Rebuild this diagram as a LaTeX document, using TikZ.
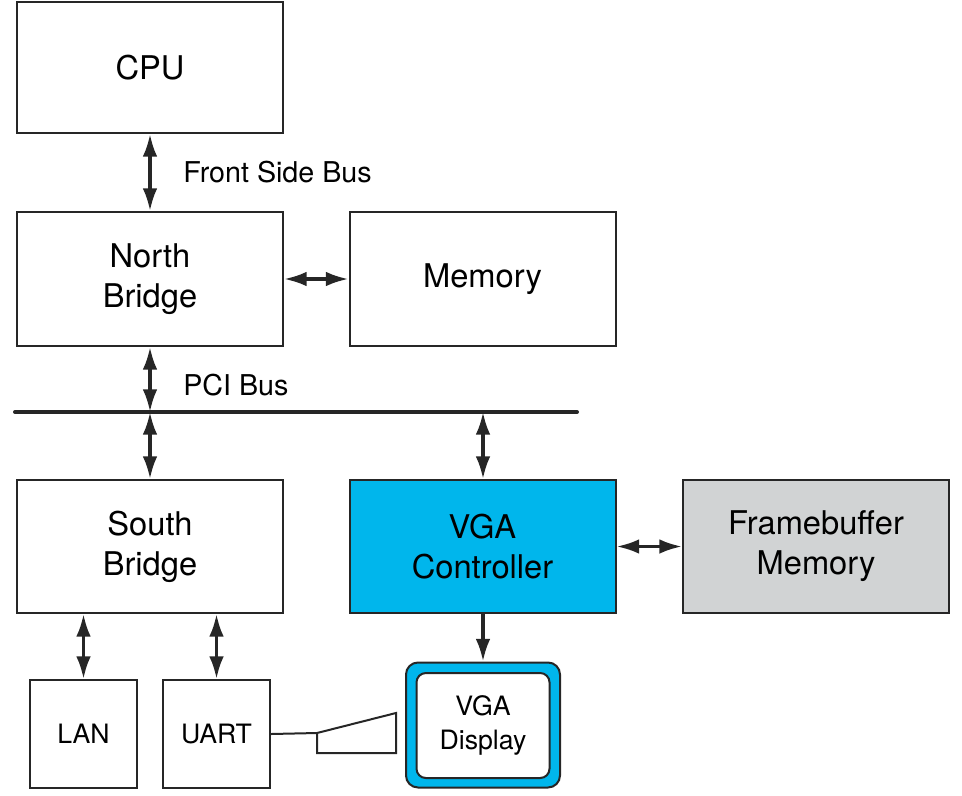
\documentclass[tikz,border=0pt]{standalone}
\usepackage{fontspec}
\setmainfont{TeX Gyre Heros}
\usetikzlibrary{arrows.meta}
\definecolor{vgacyan}{HTML}{00B6EC}
\definecolor{fbgray}{HTML}{D1D3D4}
\tikzset{
  blk/.style={draw=black!85, line width=1.5pt, fill=white, minimum width=266*0.75pt, minimum height=133*0.75pt, inner sep=0pt, align=center, font=\fontsize{24.5}{30}\selectfont},
  small/.style={draw=black!85, line width=1.5pt, fill=white, minimum width=107*0.75pt, minimum height=108*0.75pt, inner sep=0pt, align=center, font=\fontsize{20}{26}\selectfont},
  lbl/.style={anchor=west, inner sep=0pt, font=\fontsize{21.5}{26}\selectfont},
  biarrow/.style={line width=2.5pt, black!85, {Latex[length=17pt,width=11pt]}-{Latex[length=17pt,width=11pt]}},
  oneway/.style={line width=2.5pt, black!85, -{Latex[length=17pt,width=11pt]}},
}
\begin{document}
\begin{tikzpicture}[x=0.75pt,y=-0.75pt]
\useasboundingbox (0,0) rectangle (962,795);
\node[blk, minimum height=131*0.75pt] (cpu) at (150,67.5) {CPU};
\node[blk, minimum height=134*0.75pt] (nb) at (150,279) {North\\Bridge};
\node[blk, minimum height=134*0.75pt] (mem) at (482.5,279) {Memory};
\node[blk] (sb) at (150,546.5) {South\\Bridge};
\node[blk, fill=vgacyan] (vga) at (482.5,546.5) {VGA\\Controller};
\node[blk, fill=fbgray] (fb) at (816,546.5) {Framebuffer\\Memory};
\node[small] (lan) at (83.5,734) {LAN};
\node[small] (uart) at (216.5,734) {UART};
\node[draw=black!85, line width=1.5pt, fill=vgacyan, rounded corners=9pt, minimum width=154*0.75pt, minimum height=125*0.75pt] (dispo) at (483,725) {};
\node[draw=black!85, line width=1.5pt, fill=white, rounded corners=7pt, minimum width=133*0.75pt, minimum height=105*0.75pt, align=center, font=\fontsize{20}{26}\selectfont] (disp) at (483,725.5) {VGA\\Display};
% bus
\coordinate (busL) at (15,412);
\coordinate (busR) at (577,412);
\coordinate (bus1) at (150,412);
\coordinate (bus2) at (483,412);
\draw[line width=3pt, black!85, line cap=round] (busL) -- (busR);
% labels
\node[lbl] (fsb) at (183,172) {Front Side Bus};
\node[lbl] (pci) at (183,385) {PCI Bus};
% arrows
\draw[biarrow] (cpu.south) -- (nb.north);
\draw[biarrow] (nb.east) -- (mem.west);
\draw[biarrow] (nb.south) -- (bus1);
\draw[biarrow] (bus1) -- (sb.north);
\draw[biarrow] (bus2) -- (bus2 |- vga.north);
\draw[biarrow] (vga.east) -- (fb.west);
\draw[oneway] (vga.south -| bus2) -- (bus2 |- dispo.north);
\draw[biarrow] (sb.south -| lan.north) -- (lan.north);
\draw[biarrow] (sb.south -| uart.north) -- (uart.north);
% cable
\coordinate (c1) at (317,733);
\coordinate (c2) at (396,713);
\coordinate (c3) at (396,753);
\coordinate (c4) at (317,753);
\draw[line width=1.5pt, black!85] (uart.east) -- (c1);
\draw[line width=1.5pt, black!85, line join=miter] (c1) -- (c2) -- (c3) -- (c4) -- cycle;
\end{tikzpicture}
\end{document}
